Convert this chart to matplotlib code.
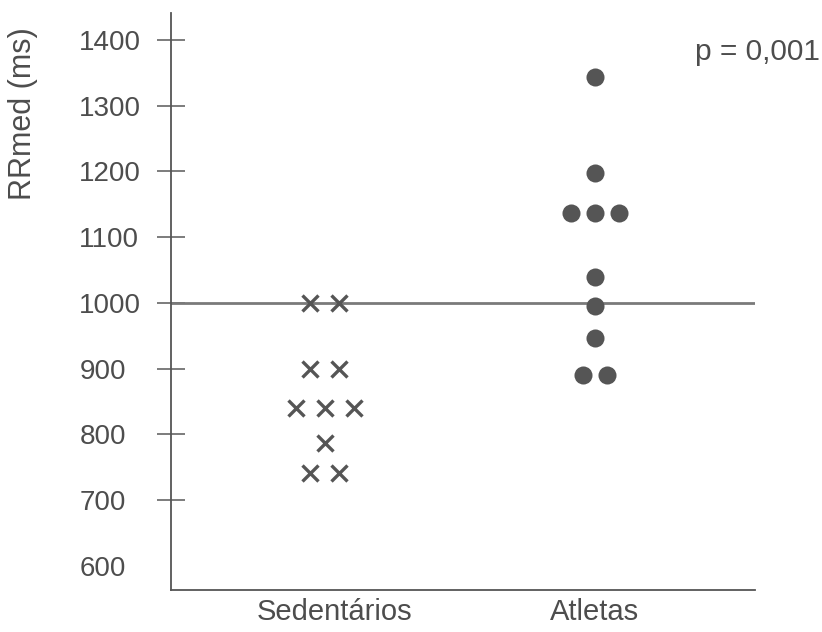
import matplotlib
matplotlib.use("Agg")
import matplotlib.pyplot as plt
import matplotlib.transforms as mtransforms
import numpy as np
from collections import Counter

plt.rcParams['font.family'] = ['Liberation Sans', 'DejaVu Sans']

# ---- data ----
categories = ["Sedentários", "Atletas"]
sedentarios = [1000, 1000, 900, 900, 840, 840, 840, 787, 741, 741]
atletas = [1343, 1198, 1137, 1137, 1137, 1040, 995, 947, 890, 890]
yticks = [600, 700, 800, 900, 1000, 1100, 1200, 1300, 1400]
yticklabels = ["600", "700", "800", "900", "1000", "1100", "1200", "1300", "1400"]
reference_value = 1000
p_text = "p = 0,001"

TXT = "#4d4d4d"
MK = "#555555"

fig = plt.figure(figsize=(8.22, 6.32), dpi=100)
ax = fig.add_axes([171/822, 1-590/632, (755-171)/822, (590-13)/632])


def swarm(values, center, step):
    counts = Counter(values)
    seen = Counter()
    xs = []
    for v in values:
        n = counts[v]
        k = seen[v]
        seen[v] += 1
        xs.append(center + (k - (n - 1) / 2) * step)
    return np.array(xs), np.array(values)

xs, ys = swarm(sedentarios, 1, 0.108)
ax.plot(xs, ys, linestyle='none', marker='x', markersize=11,
        markeredgewidth=2.4, color=MK, zorder=3)
xa, ya = swarm(atletas, 2, 0.09)
ax.plot(xa, ya, linestyle='none', marker='o', markersize=13,
        color=MK, markeredgewidth=0, zorder=3)

ax.axhline(reference_value, color="#7a7a7a", linewidth=2.0, zorder=2)

ax.set_xlim(0.430, 2.593)
ax.set_ylim(563, 1441)

for s in ['top', 'right']:
    ax.spines[s].set_visible(False)
for s in ['left', 'bottom']:
    ax.spines[s].set_color("#555555")
    ax.spines[s].set_linewidth(1.3)

ax.set_yticks(yticks)
ax.set_yticklabels(yticklabels)
ax.tick_params(axis='y', direction='inout', length=20, width=1.2,
               color="#666666", pad=56, labelsize=20, labelcolor=TXT)
for lab in ax.get_yticklabels():
    lab.set_horizontalalignment('left')
ax.yaxis.get_major_ticks()[0].tick1line.set_visible(False)

ax.set_xticks([1, 2])
ax.set_xticklabels(categories)
ax.tick_params(axis='x', length=0, pad=6, labelsize=21, labelcolor=TXT)
offset = mtransforms.ScaledTranslation(10/100, 0, fig.dpi_scale_trans)
lab0 = ax.get_xticklabels()[0]
lab0.set_transform(lab0.get_transform() + offset)

fig.text(23/822, 1-114/632, "RRmed (ms)", rotation=90, ha='center',
         va='center', fontsize=22, color=TXT)
fig.text(820/822, 1-60/632, p_text, ha='right', va='baseline',
         fontsize=21.5, color=TXT)

fig.savefig("out.png", dpi=100)
